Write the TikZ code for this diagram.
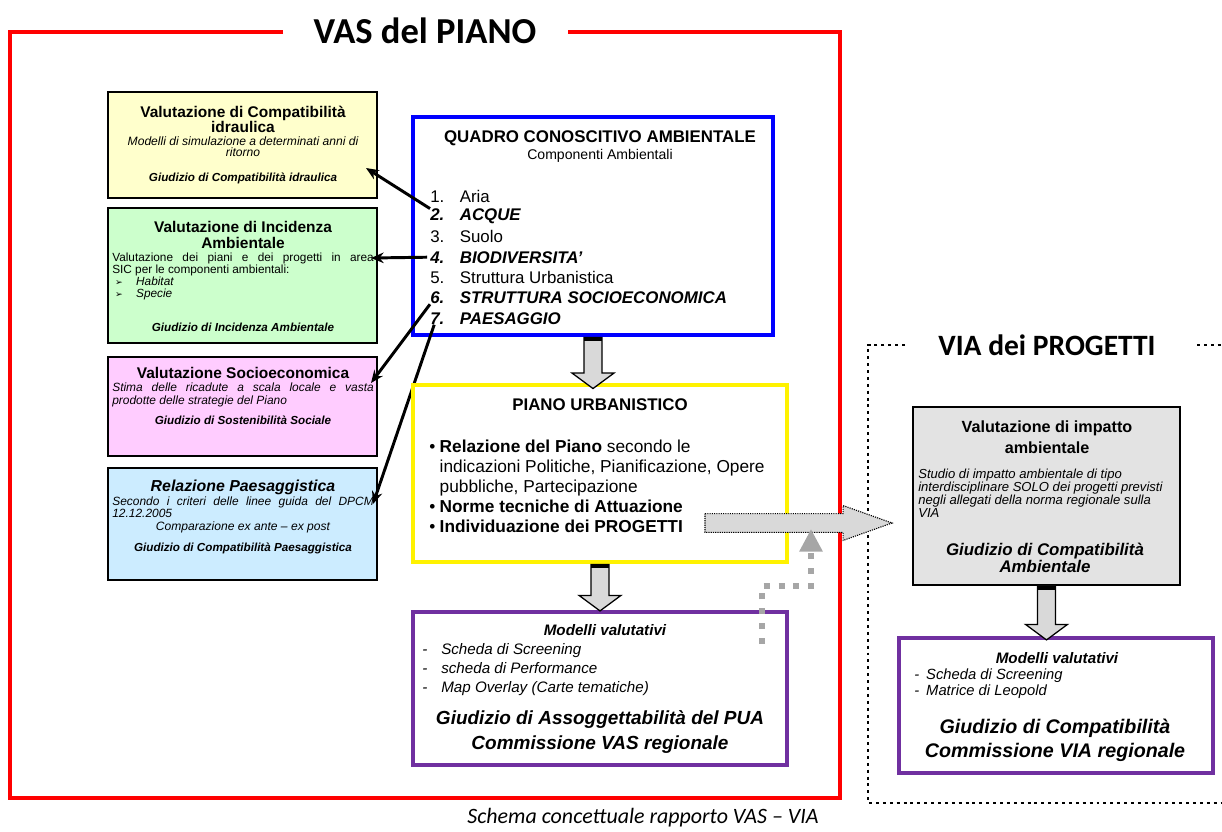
\documentclass[tikz,border=0pt]{standalone}
\usepackage{fontspec}
\setmainfont{Liberation Sans}
\newfontfamily\calib{Carlito}
\newfontfamily\dingfont{DejaVu Sans}
\usetikzlibrary{arrows.meta,fit,calc}

\definecolor{idrfill}{HTML}{FFFFCC}
\definecolor{incfill}{HTML}{CCFFCC}
\definecolor{socfill}{HTML}{FFCCFF}
\definecolor{paefill}{HTML}{CCECFF}
\definecolor{viafill}{HTML}{E3E3E3}
\definecolor{arrgray}{HTML}{D9D9D9}
\definecolor{sqgray}{HTML}{A6A6A6}
\definecolor{vaspurple}{HTML}{7030A0}

\tikzset{
  panel/.style={draw=black, line width=1.4pt, inner sep=0pt},
  frame/.style={line width=#1, inner sep=0pt},
  bigttl/.style={font=\calib\bfseries\fontsize{26}{28}\selectfont, inner sep=0pt},
  boxttl/.style={font=\bfseries\fontsize{11}{10.8}\selectfont, align=center, inner sep=0pt},
  boxsub/.style={font=\itshape\fontsize{8.6}{7.8}\selectfont, align=center, inner sep=0pt},
  verdict/.style={font=\bfseries\itshape\fontsize{8.3}{9}\selectfont, inner sep=0pt},
  para/.style={font=\fontsize{8.4}{8.4}\selectfont, text width=186pt, align=justify, inner sep=0pt},
  voce/.style={font=\fontsize{12}{14}\selectfont, inner sep=0pt},
  ulist/.style={font=\fontsize{12.3}{14.2}\selectfont, align=left, inner sep=0pt},
  mlist/.style={font=\itshape\fontsize{10.8}{13.5}\selectfont, align=left, inner sep=0pt},
  giud/.style={font=\bfseries\itshape\fontsize{13.5}{17.5}\selectfont, align=center, inner sep=0pt},
  link/.style={-{Stealth[length=9pt,width=7.5pt]}, line width=2.1pt},
  dotframe/.style={line width=2.1pt, dash pattern=on 2.1pt off 2.8pt},
  dotpath/.style={sqgray, line width=4.3pt, dash pattern=on 4.3pt off 6.3pt,
    -{Triangle[length=16pt,width=15.6pt]}},
}

\newcommand\blockdown[2]{%
  \path (#1) coordinate (bt) (#2) coordinate (bb);
  \filldraw[fill=arrgray, draw=black, line width=0.9pt] let \p1=(bt), \p2=(bb) in
    (\x1-6.4pt,\y1) -- (\x1-6.4pt,\y2+11pt) -- (\x1-14.9pt,\y2+11pt) -- (\x1,\y2)
    -- (\x1+14.9pt,\y2+11pt) -- (\x1+6.4pt,\y2+11pt) -- (\x1+6.4pt,\y1) -- cycle;
  \fill let \p1=(bt) in (\x1-6.4pt,\y1) rectangle (\x1+6.4pt,\y1-2.6pt);
}

\begin{document}
\begin{tikzpicture}[x=0.025cm,y=-0.025cm]
\useasboundingbox (0,0) rectangle (1222,831);

% VAS del piano
\node[bigttl] (vas) at (425,31) {VAS del PIANO};
\draw[red, line width=2.4pt] (283,32) -- (10,32) -- (10,798) -- (840,798) -- (840,32) -- (568,32);

% schede di valutazione
\node[panel, fill=idrfill, fit={(108,92)(377,198)}] (idr) {};
\node[panel, fill=incfill, fit={(108,208)(377,343)}] (inc) {};
\node[panel, fill=socfill, fit={(108,357)(377,456)}] (soc) {};
\node[panel, fill=paefill, fit={(108,468)(377,580)}] (pae) {};

\node[boxttl] (idrT) at (243,119) {Valutazione di Compatibilità\\idraulica};
\node[boxsub] (idrS) at (243,147) {Modelli di simulazione a determinati anni di\\ritorno};
\node[verdict] (idrG) at (243,178) {Giudizio di Compatibilità idraulica};

\node[boxttl] (incT) at (243,235) {Valutazione di Incidenza\\Ambientale};
\node[para, anchor=north west] (incS) at (112,253) {Valutazione dei piani e dei progetti in area\linebreak
  SIC per le componenti ambientali:\\
  \hspace*{2pt}\makebox[15pt][l]{\dingfont\fontsize{6.5}{7}\selectfont ➢}\textit{Habitat}\\
  \hspace*{2pt}\makebox[15pt][l]{\dingfont\fontsize{6.5}{7}\selectfont ➢}\textit{Specie}};
\node[verdict] (incG) at (243,327) {Giudizio di Incidenza Ambientale};

\node[boxttl] (socT) at (243,373) {Valutazione Socioeconomica};
\node[para, font=\itshape\fontsize{8.5}{8.6}\selectfont, anchor=north west] (socS) at (112,383)
  {Stima delle ricadute a scala locale e vasta\linebreak prodotte delle strategie del Piano};
\node[verdict] (socG) at (243,420) {Giudizio di Sostenibilità Sociale};

\node[boxttl, font=\bfseries\itshape\fontsize{11.3}{12}\selectfont] (paeT) at (243,487) {Relazione Paesaggistica};
\node[para, font=\itshape\fontsize{8.5}{8.1}\selectfont, anchor=north west] (paeS) at (112,497)
  {Secondo i criteri delle linee guida del DPCM\linebreak 12.12.2005};
\node[boxsub] (paeC) at (243,527) {Comparazione ex ante – ex post};
\node[verdict] (paeG) at (243,548) {Giudizio di Compatibilità Paesaggistica};

% quadro conoscitivo
\node[frame=3.5pt, draw=blue, fit={(413,117)(773,335)}] (quadro) {};
\node[font=\bfseries\fontsize{12}{14}\selectfont, inner sep=0pt] (qT) at (600,138) {QUADRO CONOSCITIVO AMBIENTALE};
\node[font=\fontsize{10}{12}\selectfont, inner sep=0pt] (qS) at (600,156) {Componenti Ambientali};
\foreach \n/\sty/\voce in {1/\upshape/Aria, 2/\bfseries\itshape/ACQUE, 3/\upshape/Suolo,
  4/\bfseries\itshape/BIODIVERSITA', 5/\upshape/Struttura Urbanistica,
  6/\bfseries\itshape/STRUTTURA SOCIOECONOMICA, 7/\bfseries\itshape/PAESAGGIO}
  \node[voce, anchor=west] (q\n) at (430,{196+20.4*(\n-1)}) {\sty\makebox[21pt][l]{\n.}\voce};

% frecce verso le schede
\coordinate (idrIn) at (366,168);
\coordinate (incIn) at (371,258);
\coordinate (socIn) at (371,383);
\coordinate (paeIn) at (373,504);
\draw[link] (q2.north west) -- (idrIn);
\draw[link] ([xshift=-2pt]q4.west) -- (incIn);
\draw[link] (q6.south west) -- (socIn);
\draw[link] ([xshift=3pt]q7.south west) -- (paeIn);

% piano urbanistico
\node[frame=3.5pt, draw=yellow, fit={(413,385)(787,562)}] (piano) {};
\node[font=\bfseries\fontsize{12}{14}\selectfont, inner sep=0pt] (pT) at (600,405) {PIANO URBANISTICO};
\node[ulist, anchor=north west] (pu) at (429,440) {\makebox[7.4pt][l]{\textbullet}\textbf{Relazione del Piano} secondo le\\
  \hspace*{7.4pt}indicazioni Politiche, Pianificazione, Opere\\
  \hspace*{7.4pt}pubbliche, Partecipazione\\
  \makebox[7.4pt][l]{\textbullet}\textbf{Norme tecniche di Attuazione}\\
  \makebox[7.4pt][l]{\textbullet}\textbf{Individuazione dei PROGETTI}};

% modelli VAS
\node[frame=3pt, draw=vaspurple, fit={(413,612)(787,765)}] (vasmod) {};
\node[font=\bfseries\itshape\fontsize{10.8}{12}\selectfont, inner sep=0pt] (vmT) at (605,630) {Modelli valutativi};
\node[mlist, anchor=north west] (vmL) at (422,643) {\makebox[13.5pt][l]{-}Scheda di Screening\\
  \makebox[13.5pt][l]{-}scheda di Performance\\
  \makebox[13.5pt][l]{-}Map Overlay (Carte tematiche)};
\node[giud] (vmG) at (600,732) {Giudizio di Assoggettabilità del PUA\\Commissione VAS regionale};

\blockdown{quadro.south}{$(piano.north)+(0,6)$}
\blockdown{piano.south}{$(vasmod.north)+(0,1)$}

% VIA dei progetti
\node[bigttl, font=\calib\bfseries\fontsize{21}{24}\selectfont] (via) at (1047,345) {VIA dei PROGETTI};
\draw[dotframe] (905,345) -- (868,345) -- (868,803) -- (1222,803);
\draw[dotframe] (1197,345) -- (1222,345);

\node[panel, fill=viafill, fit={(913,407)(1180,585)}] (vib) {};
\node[boxttl, font=\bfseries\fontsize{11.5}{15}\selectfont] (vibT) at (1047,437) {Valutazione di impatto\\ambientale};
\node[font=\itshape\fontsize{9.3}{9.2}\selectfont, align=left, inner sep=0pt, anchor=north west] (vibS) at (918,469)
  {Studio di impatto ambientale di tipo\\interdisciplinare SOLO dei progetti previsti\\negli allegati della norma regionale sulla\\VIA};
\node[font=\bfseries\itshape\fontsize{12}{12.2}\selectfont, align=center, inner sep=0pt] (vibG) at (1045,558) {Giudizio di Compatibilità\\Ambientale};

\node[frame=3pt, draw=vaspurple, fit={(899,638)(1213,773)}] (viamod) {};
\node[font=\bfseries\itshape\fontsize{10.8}{12}\selectfont, inner sep=0pt] (vmT2) at (1057,658) {Modelli valutativi};
\node[mlist, font=\itshape\fontsize{10.5}{10.8}\selectfont, anchor=north west] (vmL2) at (914,669) {\makebox[8.5pt][l]{-}Scheda di Screening\\
  \makebox[8.5pt][l]{-}Matrice di Leopold};
\node[giud, font=\bfseries\itshape\fontsize{14}{17}\selectfont] (vmG2) at (1055,740) {Giudizio di Compatibilità\\Commissione VIA regionale};

\blockdown{vib.south}{$(viamod.north)+(0,4)$}

% collegamento PROGETTI -> VIA
\coordinate (prg) at (705,523);
\coordinate (tgt) at (892,523);
\filldraw[fill=arrgray, draw=black, line width=0.8pt, dash pattern=on 0.8pt off 0.8pt]
  let \p1=(prg), \p2=(tgt) in
  (\x1,\y1+6.7pt) -- (\x2-34.8pt,\y1+6.7pt) -- (\x2-34.8pt,\y1+12.4pt) -- (\x2,\y1)
  -- (\x2-34.8pt,\y1-12.4pt) -- (\x2-34.8pt,\y1-6.7pt) -- (\x1,\y1-6.7pt) -- cycle;
\coordinate (sq0) at (762,644);
\coordinate (sq1) at (811,529);
\draw[dotpath] (sq0) |- (811,586) -- (sq1);

% didascalia
\node[font=\calib\itshape\fontsize{15.6}{18}\selectfont, inner sep=0pt] (cap) at (643,818) {Schema concettuale rapporto VAS – VIA};
\end{tikzpicture}
\end{document}
